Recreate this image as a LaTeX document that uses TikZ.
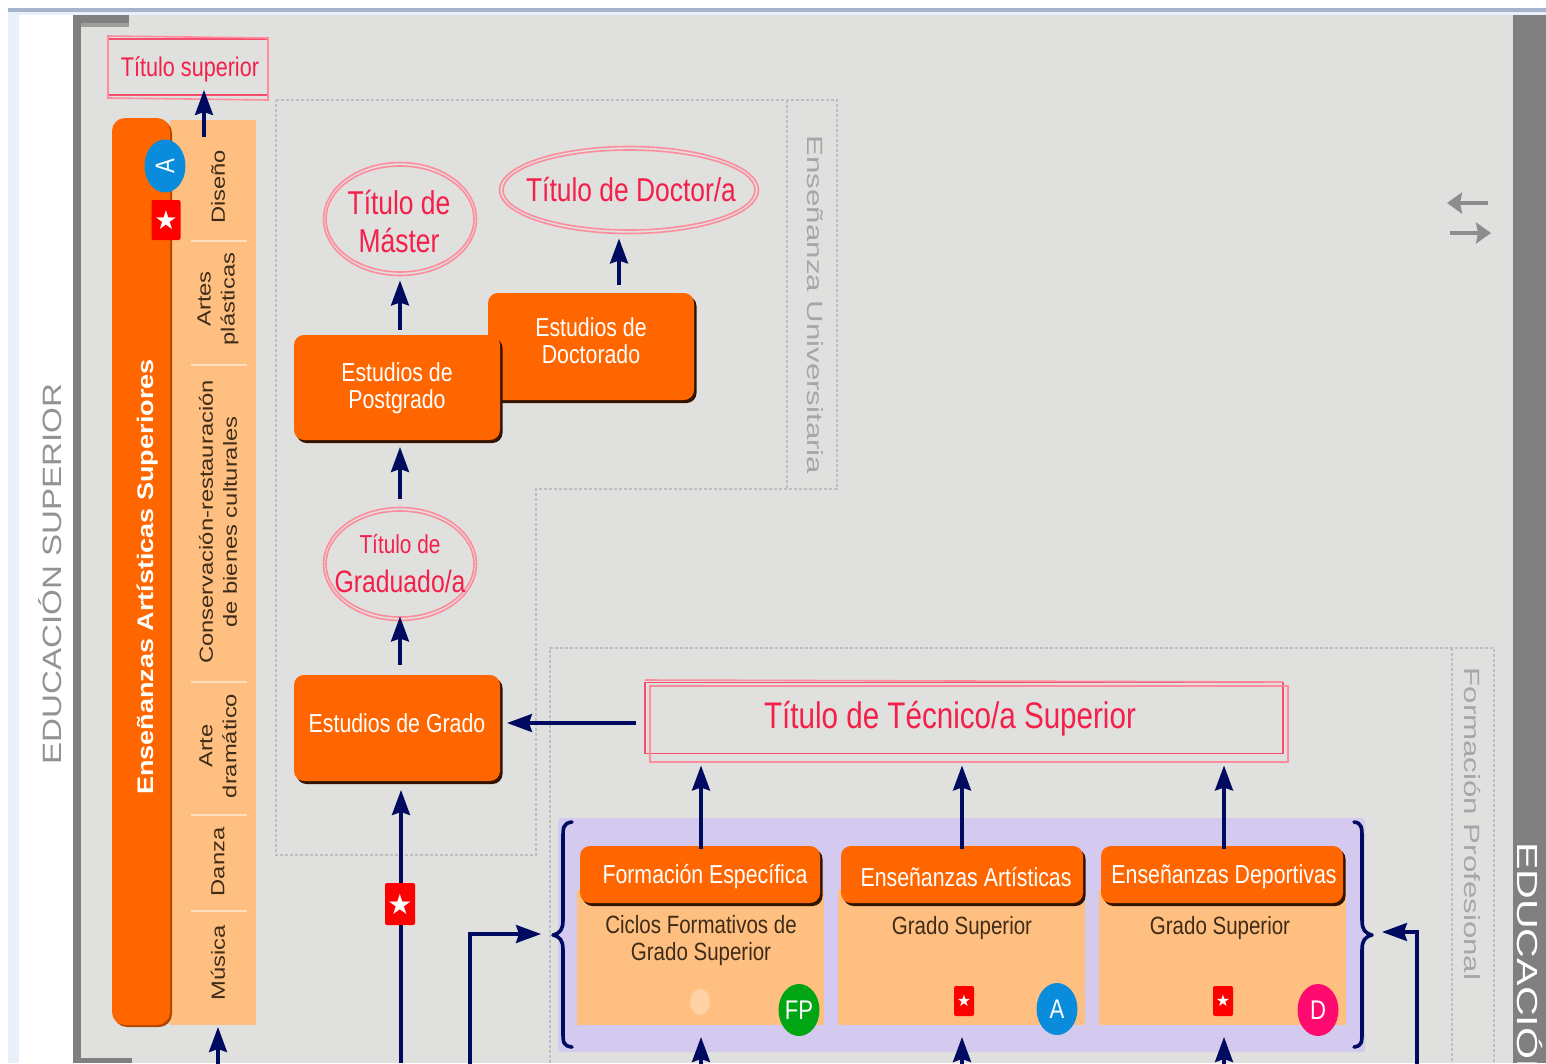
\documentclass[tikz,border=0pt]{standalone}
\usepackage{fontspec}
\usetikzlibrary{arrows.meta,shapes.geometric,shadows,calc}
\setmainfont{Liberation Sans}
\newfontfamily\narrowf[FakeStretch=0.82]{Liberation Sans}
\newfontfamily\handf[FakeStretch=0.80]{Liberation Sans}
\newfontfamily\widef[FakeStretch=1.25]{Liberation Sans}
\newfontfamily\widerf[FakeStretch=1.42]{Liberation Sans}
\newfontfamily\boldwf[FakeStretch=1.2]{Liberation Sans}
\newfontfamily\symf{DejaVu Sans}
\definecolor{panel}{HTML}{E0E0DE}
\definecolor{strip}{HTML}{808080}
\definecolor{orng}{HTML}{FF6600}
\definecolor{peach}{HTML}{FFBF80}
\definecolor{lila}{HTML}{D4C9EE}
\definecolor{navy}{HTML}{000A60}
\definecolor{hred}{HTML}{F4204A}
\definecolor{hpink}{HTML}{FF8C9C}
\definecolor{dotc}{HTML}{BEBEBE}
\definecolor{captc}{HTML}{A6A6A6}
\definecolor{inkc}{HTML}{3E2C18}
\definecolor{topl}{HTML}{A4B4CC}
\definecolor{topm}{HTML}{E8F0FA}
\definecolor{badgeblue}{HTML}{0A8CDC}
\definecolor{badgegreen}{HTML}{00A514}
\definecolor{badgepink}{HTML}{FF0A6E}
\tikzset{
  every node/.style={inner sep=0pt,outer sep=0pt},
  arr/.style={draw=navy,line width=3.2pt,-{Stealth[length=25pt,width=18pt,inset=3pt]}},
  greyarr/.style={draw=strip!90!white,line width=3.4pt,-{Stealth[length=15pt,width=21pt,inset=2pt]}},
  btn/.style={rectangle,rounded corners=10pt,fill=orng,
    general shadow={shadow xshift=2.5pt,shadow yshift=-3pt,fill=black!80!orng}},
  btntext/.style={text=white,align=center,font=\narrowf\fontsize{26}{27}\selectfont},
  cardhead/.style={btn,minimum height=57pt},
  card/.style={rectangle,fill=peach,minimum width=247pt,minimum height=135pt},
  cardtext/.style={text=inkc,align=center,font=\narrowf\fontsize{25}{27}\selectfont},
  peachtext/.style={rotate=90,text=inkc,align=center,font=\widef\fontsize{19}{24}\selectfont},
  hand/.style={text=hred,align=center},
  hell/.style={ellipse,draw=hpink,line width=1.6pt},
  hbox/.style={rectangle,draw=hred!80!white,line width=1.6pt},
  hline/.style={draw=hpink,line width=1.6pt},
  sepl/.style={draw=peach!50!white,line width=2pt},
  dots/.style={draw=dotc,line width=1.5pt,dash pattern=on 3pt off 2pt},
  capt/.style={text=captc,font=\widerf\fontsize{22}{24}\selectfont},
  badge/.style={ellipse,minimum width=41pt,minimum height=52pt},
  badgetext/.style={text=white,font=\narrowf\fontsize{27}{28}\selectfont},
  starbox/.style={rectangle,rounded corners=2pt,fill=red,text=white,font=\symf\fontsize{17}{19}\selectfont},
}
\begin{document}
\begin{tikzpicture}[x=1pt,y=-1pt]
\clip (0,0) rectangle (1546,1063);
\fill[white] (0,0) rectangle (1546,1063);
% page frame
\fill[topl] (8,8) rectangle (1546,12);
\fill[topm] (8,12) rectangle (1546,15);
\fill[topm] (8,12) rectangle (19,1063);
\fill[panel] (73,15) rectangle (1513,1063);
\fill[strip] (1513,15) rectangle (1546,1063);
\fill[strip] (73,15) rectangle (129,23);
\fill[strip!70!panel] (81,23) rectangle (129,27);
\fill[strip] (73,15) rectangle (81,1063);
\fill[strip] (73,1058) rectangle (132,1063);
\node[rotate=90,text=strip!85!white,font=\widef\fontsize{26.5}{28}\selectfont] (edsup) at (50,574) {EDUCACIÓN SUPERIOR};
\node[rotate=-90,anchor=west,text=white,font=\widerf\fontsize{29}{31}\selectfont] (edpro) at (1530,842) {EDUCACIÓN};
% dotted regions
\draw[dots] (276,100) -- (837,100) -- (837,489) -- (536,489) -- (536,855) -- (276,855) -- cycle;
\draw[dots] (787,100) -- (787,489);
\draw[dots] (550,1063) -- (550,648) -- (1494,648) -- (1494,1063);
\draw[dots] (1452,648) -- (1452,1063);
\node[rotate=-90,capt] (univ) at (815,305) {Enseñanza Universitaria};
\node[rotate=-90,capt] (fprof) at (1472,824) {Formación Profesional};
% artistic superior column
\node[rectangle,fill=peach,minimum width=86pt,minimum height=905pt] (artes) at (213,572.5) {};
\node[rectangle,rounded corners=13pt,fill=orng,minimum width=58pt,minimum height=907pt,
  general shadow={shadow xshift=2pt,shadow yshift=-2pt,fill=black!30!orng}] (eas) at (141,571.5) {};
\node[rotate=90,text=white,font=\boldwf\bfseries\fontsize{22.5}{24}\selectfont] (easl) at (148,577) {Enseñanzas Artísticas Superiores};
\foreach \yy in {241,365,682,815,911} \draw[sepl] (191,\yy) -- (247,\yy);
\node[peachtext] (dis) at (218,187) {Diseño};
\node[peachtext] (pla) at (218,299) {Artes\\plásticas};
\node[peachtext] (con) at (218,522) {Conservación-restauración\\de bienes culturales};
\node[peachtext] (dra) at (218,746) {Arte\\dramático};
\node[peachtext] (dan) at (218,862) {Danza};
\node[peachtext] (mus) at (218,963) {Música};
\node[ellipse,fill=badgeblue,minimum width=53pt,minimum height=41pt,rotate=90] (ba0) at (165,166) {};
\node[badgetext,rotate=90] (ba0l) at (165,166) {A};
\node[starbox,minimum width=29pt,minimum height=40pt,font=\symf\fontsize{26}{28}\selectfont] (st0) at (166,220) {★};
% title superior
\node[hbox,minimum width=160pt,minimum height=56pt] (tsup) at (188,67) {};
\node[hand,font=\handf\fontsize{27}{29}\selectfont] (tsupl) at (190,69) {Título superior};
\draw[hline] (108,36) -- (268,38) -- (268,100) -- (108,98) -- cycle;
\coordinate (a1) at (204,137);
\draw[arr] (a1) -- ([yshift=5pt]tsup.south -| a1);
% university
\node[hell,minimum width=153pt,minimum height=113pt] (mas) at (400,219) {};
\draw[hline] (mas.center) ellipse [x radius=74,y radius=53];
\node[hand,font=\handf\fontsize{33}{38}\selectfont] (masl) at (399,222) {Título de\\Máster};
\node[hell,minimum width=259pt,minimum height=87pt] (doc) at (629,190) {};
\draw[hline] (doc.center) ellipse [x radius=126,y radius=40];
\node[hand,font=\handf\fontsize{33}{35}\selectfont] (docl) at (631,190) {Título de Doctor/a};
\node[hell,minimum width=153pt,minimum height=113pt] (gra) at (400,564) {};
\draw[hline] (gra.center) ellipse [x radius=74,y radius=53];
\node[hand,font=\handf\fontsize{31}{39}\selectfont] (gral) at (400,564) {{\fontsize{26}{39}\selectfont Título de}\\Graduado/a};
\node[btn,minimum width=206pt,minimum height=107pt] (edoc) at (591,346.5) {};
\node[btntext] (edocl) at (591,341) {Estudios de\\Doctorado};
\node[btn,minimum width=206pt,minimum height=105pt] (epos) at (397,387.5) {};
\node[btntext] (eposl) at (397,388) {Estudios de\\Postgrado};
\node[btn,minimum width=206pt,minimum height=106pt] (egra) at (397,728) {};
\node[btntext] (egral) at (397,723) {Estudios de Grado};
\draw[arr] ([yshift=5pt]epos.north -| mas) -- ([yshift=-5pt]mas.south);
\draw[arr] ($(edoc.north)+(28,-8)$) -- ($(doc.south)+(-10,5)$);
\draw[arr] ([yshift=9pt]gra.north) -- ([yshift=-7pt]epos.south -| gra);
\draw[arr] ([yshift=10pt]egra.north -| gra) -- ([yshift=4pt]gra.south);
% vocational
\node[rectangle,rounded corners=3pt,fill=lila,minimum width=807pt,minimum height=234pt] (pur) at (961.5,935) {};
\node[card] (c1) at (700.5,957.5) {};
\node[card] (c2) at (961.5,957.5) {};
\node[card] (c3) at (1222,957.5) {};
\node[cardhead,minimum width=240pt] (h1) at (700,874.5) {};
\node[cardhead,minimum width=242pt] (h2) at (962,874.5) {};
\node[cardhead,minimum width=242pt] (h3) at (1222,874.5) {};
\node[btntext] (h1l) at (705,877) {Formación Específica};
\node[btntext] (h2l) at (966,877) {Enseñanzas Artísticas};
\node[btntext] (h3l) at (1224,877) {Enseñanzas Deportivas};
\node[cardtext] (t1) at (701,941) {Ciclos Formativos de\\Grado Superior};
\node[cardtext] (t2) at (962,928) {Grado Superior};
\node[cardtext] (t3) at (1220,928) {Grado Superior};
\node[ellipse,fill=peach!70!white,minimum width=20pt,minimum height=26pt] (st1) at (700,1002) {};
\node[starbox,minimum width=20pt,minimum height=30pt,font=\symf\fontsize{16}{18}\selectfont] (st2) at (964,1001) {★};
\node[starbox,minimum width=20pt,minimum height=30pt,font=\symf\fontsize{16}{18}\selectfont] (st3) at (1223,1001) {★};
\node[badge,fill=badgegreen] (b1) at (799,1010) {};
\node[badgetext] (b1l) at (799,1010) {FP};
\node[badge,fill=badgeblue] (b2) at (1057,1009) {};
\node[badgetext] (b2l) at (1057,1009) {A};
\node[badge,fill=badgepink] (b3) at (1318,1010) {};
\node[badgetext] (b3l) at (1318,1010) {D};
% title técnico
\node[hbox,minimum width=638pt,minimum height=71pt] (ttec) at (964,718) {};
\node[hand,font=\handf\fontsize{37}{39}\selectfont] (ttecl) at (950,719) {Título de Técnico/a Superior};
\draw[hline] (650,686) -- (1288,686) -- (1288,762) -- (650,762) -- cycle;
\draw[hline] (645,680) -- (1283,682);
% arrows
\draw[arr] (ttec.west) ++(-9,5) coordinate (a2) -- ([xshift=7pt]a2 -| egra.east);
\coordinate (a3) at (401,1063);
\draw[arr] (a3) -- ([yshift=-9pt]egra.south -| a3);
\node[starbox,minimum width=30pt,minimum height=42pt,font=\symf\fontsize{28}{30}\selectfont] (st4) at (400,904) {★};
\draw[arr] ([xshift=1pt,yshift=-3pt]h1.north) -- ([xshift=1pt,yshift=-12pt]ttec.south -| h1);
\draw[arr] ([yshift=-3pt]h2.north) -- ([yshift=-12pt]ttec.south -| h2);
\draw[arr] ([xshift=2pt,yshift=-3pt]h3.north) -- ([xshift=2pt,yshift=-12pt]ttec.south -| h3);
\coordinate (b4) at (701,1080); \coordinate (b5) at (962,1080); \coordinate (b6) at (1224,1080);
\draw[arr] (b4) -- (701,1037);
\draw[arr] (b5) -- (962,1037);
\draw[arr] (b6) -- (1224,1037);
\coordinate (b7) at (218,1085);
\draw[arr] (b7) -- (218,1027);
% braces
\draw[navy,line width=3.6pt,line cap=round,line join=round] (572,822) .. controls (563,823) and (563,828) .. (563,838) -- (563,920) .. controls (563,930) and (560,933) .. (553,935) .. controls (560,937) and (563,940) .. (563,950) -- (563,1032) .. controls (563,1042) and (563,1046) .. (572,1047);
\draw[navy,line width=3.6pt,line cap=round,line join=round] (1354,822) .. controls (1362,823) and (1362,828) .. (1362,838) -- (1362,920) .. controls (1362,930) and (1365,933) .. (1372,935) .. controls (1365,937) and (1362,940) .. (1362,950) -- (1362,1032) .. controls (1362,1042) and (1362,1046) .. (1354,1047);
\coordinate (l0) at (470,1085); \coordinate (l1) at (541,934);
\draw[arr] (l0) |- (l1);
\coordinate (r0) at (1417,1085); \coordinate (r1) at (1382,932);
\draw[arr] (r0) |- (r1);
% grey arrows
\coordinate (g1) at (1488,203); \coordinate (g2) at (1447,203);
\coordinate (g3) at (1450,233); \coordinate (g4) at (1491,233);
\draw[greyarr] (g1) -- (g2);
\draw[greyarr] (g3) -- (g4);
\end{tikzpicture}
\end{document}
